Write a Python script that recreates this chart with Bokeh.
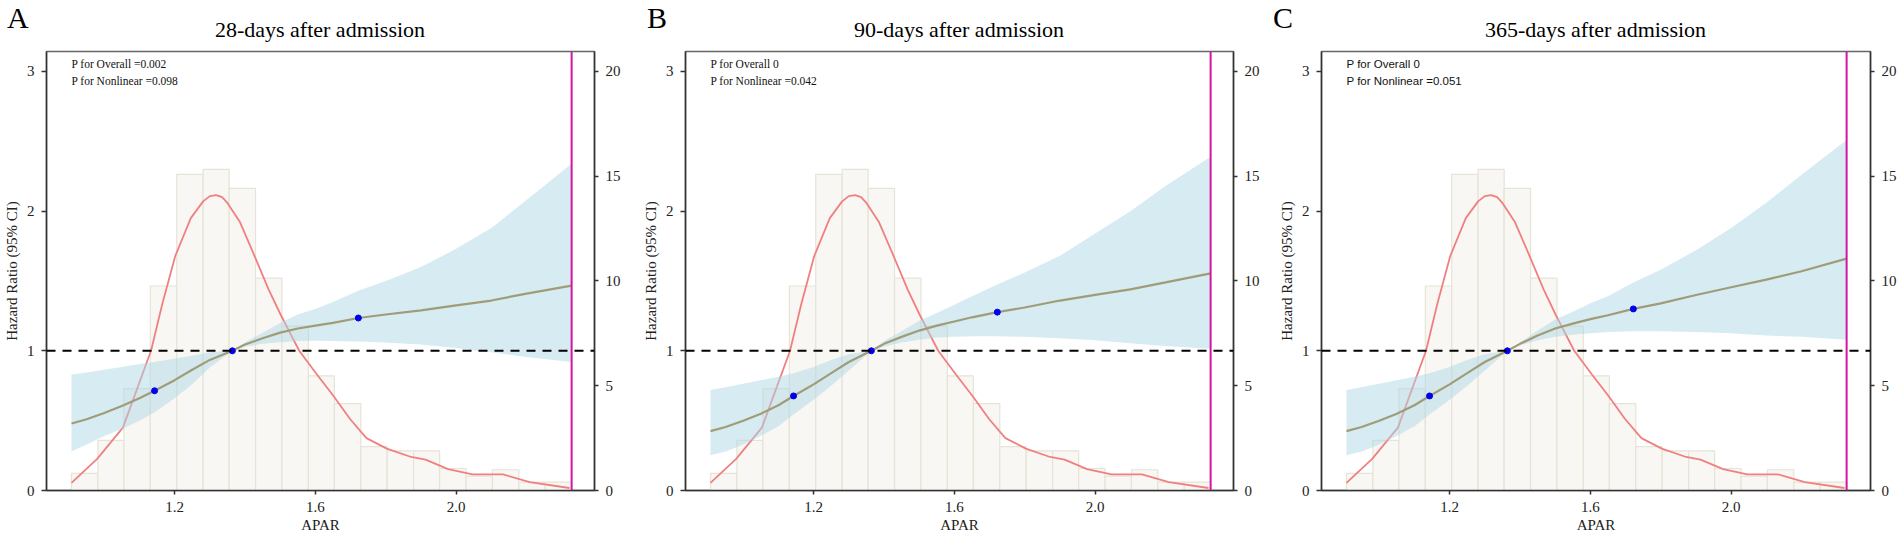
from bokeh.plotting import figure
from bokeh.models import Range1d, LinearAxis, FixedTicker, Span, Label, NumeralTickFormatter, Div
from bokeh.layouts import row, column
from bokeh.embed import file_html
from bokeh.resources import INLINE

SERIF = "Liberation Serif"
SANS = "Liberation Sans"

# ---------------- data ----------------
titles = ["28-days after admission", "90-days after admission", "365-days after admission"]
letters = ["A", "B", "C"]
p_overall = ["P for Overall =0.002", "P for Overall 0", "P for Overall 0"]
p_nonlinear = ["P for Nonlinear =0.098", "P for Nonlinear =0.042", "P for Nonlinear =0.051"]

apar = [0.907, 0.95, 1.0, 1.05, 1.1, 1.143, 1.2, 1.25, 1.3, 1.364, 1.4, 1.45,
        1.5, 1.55, 1.6, 1.65, 1.722, 1.8, 1.9, 2.0, 2.1, 2.2, 2.328]

hr_28 = [0.48, 0.51, 0.555, 0.605, 0.66, 0.714, 0.79, 0.865, 0.935, 1.0, 1.045, 1.09,
         1.13, 1.16, 1.18, 1.2, 1.235, 1.26, 1.29, 1.325, 1.36, 1.41, 1.467]
lo_28 = [0.28, 0.33, 0.39, 0.44, 0.5, 0.56, 0.66, 0.76, 0.88, 1.0, 1.03, 1.05,
         1.062, 1.07, 1.072, 1.07, 1.066, 1.06, 1.045, 1.02, 0.99, 0.955, 0.92]
hi_28 = [0.83, 0.845, 0.865, 0.885, 0.905, 0.92, 0.945, 0.965, 0.99, 1.0, 1.06, 1.13,
         1.2, 1.26, 1.3, 1.35, 1.43, 1.5, 1.6, 1.73, 1.88, 2.08, 2.34]

hr_90 = [0.425, 0.455, 0.5, 0.55, 0.61, 0.677, 0.76, 0.84, 0.92, 1.0, 1.05, 1.1,
         1.145, 1.18, 1.21, 1.24, 1.277, 1.31, 1.36, 1.40, 1.44, 1.49, 1.555]
lo_90 = [0.252, 0.28, 0.33, 0.39, 0.46, 0.545, 0.65, 0.75, 0.86, 1.0, 1.03, 1.06,
         1.08, 1.095, 1.1, 1.105, 1.105, 1.1, 1.09, 1.075, 1.055, 1.035, 1.015]
hi_90 = [0.72, 0.74, 0.765, 0.79, 0.815, 0.84, 0.885, 0.935, 0.975, 1.0, 1.07, 1.14,
         1.215, 1.27, 1.33, 1.39, 1.475, 1.56, 1.68, 1.84, 2.0, 2.18, 2.39]

hr_365 = [0.425, 0.455, 0.5, 0.55, 0.61, 0.677, 0.76, 0.84, 0.92, 1.0, 1.05, 1.11,
          1.16, 1.195, 1.227, 1.255, 1.30, 1.34, 1.40, 1.455, 1.51, 1.57, 1.66]
lo_365 = [0.252, 0.28, 0.33, 0.39, 0.46, 0.545, 0.65, 0.75, 0.86, 1.0, 1.04, 1.075,
          1.1, 1.115, 1.125, 1.135, 1.14, 1.14, 1.135, 1.125, 1.11, 1.1, 1.08]
hi_365 = [0.72, 0.74, 0.765, 0.79, 0.815, 0.84, 0.885, 0.935, 0.975, 1.0, 1.06, 1.145,
          1.225, 1.28, 1.34, 1.39, 1.49, 1.58, 1.72, 1.88, 2.06, 2.26, 2.51]

knot_x = [1.143, 1.364, 1.722]
knot_28 = [0.714, 1.0, 1.235]
knot_90 = [0.677, 1.0, 1.277]
knot_365 = [0.677, 1.0, 1.30]

hist_edges = [0.907, 0.982, 1.056, 1.131, 1.206, 1.281, 1.355, 1.430, 1.505, 1.580,
              1.654, 1.729, 1.804, 1.879, 1.953, 2.028, 2.103, 2.178, 2.253, 2.328]
hist_pct = [0.82, 2.39, 4.86, 9.76, 15.09, 15.33, 14.42, 10.14, 7.85, 5.47,
            4.15, 2.09, 1.89, 1.89, 1.05, 0.69, 0.99, 0.40, 0.40]

dens_x = [0.907, 0.98, 1.053, 1.096, 1.133, 1.165, 1.202, 1.246, 1.281, 1.30, 1.318,
          1.335, 1.351, 1.386, 1.427, 1.467, 1.501, 1.554, 1.606, 1.652, 1.699, 1.745,
          1.803, 1.872, 1.913, 1.977, 2.046, 2.133, 2.209, 2.322]
dens_y = [0.36, 1.51, 3.0, 4.97, 6.67, 8.9, 11.2, 13.0, 13.8, 14.05, 14.1,
          14.0, 13.7, 12.8, 11.2, 9.6, 8.4, 6.67, 5.5, 4.5, 3.4, 2.5,
          2.0, 1.6, 1.47, 1.02, 0.77, 0.77, 0.40, 0.12]

apar_max = 2.328

x_ticks = [1.2, 1.6, 2.0]
hr_ticks = [0, 1, 2, 3]
pct_ticks = [0, 5, 10, 15, 20]

series = [(hr_28, lo_28, hi_28, knot_28),
          (hr_90, lo_90, hi_90, knot_90),
          (hr_365, lo_365, hi_365, knot_365)]

# ---------------- layout (pixels) ----------------
PAGE_W = 1902
STRIP_H = 44          # header strip with panel letters and titles
PANEL_H = 540 - STRIP_H
FRAME_H = 439
BORDER_TOP = 51 - STRIP_H
BORDER_BOTTOM = PANEL_H - FRAME_H - BORDER_TOP
borders = [(46, 45), (46, 36), (52, 32)]
frame_widths = [548, 548, 549]
letter_gap = [39, 38, 48]
ptext_fonts = [SERIF, SERIF, SANS]

X0, X1 = 0.836, 2.393
Y1 = 3.143
PCT1 = Y1 * 20 / 3


def style_axis(ax, side):
    ax.axis_line_color = "#333333"
    ax.axis_line_width = 1.5
    ax.major_tick_line_color = "#333333"
    ax.major_tick_line_width = 1.5
    ax.major_tick_out = 5 if side == "left" else 4
    ax.major_tick_in = 0
    ax.minor_tick_line_color = None
    ax.major_label_text_font = SERIF
    ax.major_label_text_font_size = "15px"
    ax.major_label_text_color = "#222222"
    ax.major_label_standoff = 7
    ax.axis_label_text_font = SERIF
    ax.axis_label_text_font_size = "15px"
    ax.axis_label_text_font_style = "normal"
    ax.axis_label_text_color = "#222222"
    ax.axis_label_standoff = 2 if side == "below" else 4


figs = []
frame_lefts = []
x_cursor = 0
for i in range(3):
    hr, lo, hi, knots = series[i]
    bl, br = borders[i]
    fw = frame_widths[i]
    width = bl + fw + br
    frame_lefts.append(x_cursor + bl)
    x_cursor += width
    p = figure(width=width, height=PANEL_H, title=None,
               x_range=Range1d(X0, X0 + (X1 - X0) * fw / 548), y_range=Range1d(0, Y1),
               output_backend="svg", toolbar_location=None,
               min_border_left=bl, min_border_right=br,
               min_border_top=BORDER_TOP, min_border_bottom=BORDER_BOTTOM)
    p.extra_y_ranges = {"pct": Range1d(0, PCT1)}
    p.xgrid.grid_line_color = None
    p.ygrid.grid_line_color = None
    p.outline_line_color = "#666666"
    p.outline_line_width = 1.5
    p.background_fill_color = "white"
    p.border_fill_color = "white"

    p.xaxis.ticker = FixedTicker(ticks=x_ticks)
    p.xaxis.formatter = NumeralTickFormatter(format="0.0")
    p.xaxis.axis_label = "APAR"
    p.yaxis.ticker = FixedTicker(ticks=hr_ticks)
    p.yaxis.axis_label = "Hazard Ratio (95% CI)"
    style_axis(p.xaxis[0], "below")
    style_axis(p.yaxis[0], "left")
    ax_r = LinearAxis(y_range_name="pct", ticker=FixedTicker(ticks=pct_ticks))
    style_axis(ax_r, "right")
    p.add_layout(ax_r, "right")

    # histogram (percent, right axis)
    p.quad(left=hist_edges[:-1], right=hist_edges[1:], bottom=0, top=hist_pct,
           y_range_name="pct", fill_color="#F8F7F3", line_color="#E6E4D6", line_width=1.2)
    # density curve
    p.line(dens_x, dens_y, y_range_name="pct", line_color="#F08080", line_width=1.8)
    # CI band
    p.varea(x=apar, y1=lo, y2=hi, fill_color="#ADD8E6", fill_alpha=0.5)
    # HR curve
    p.line(apar, hr, line_color="#A09C78", line_width=2.2)
    # reference line
    p.add_layout(Span(location=1, dimension="width", line_color="black",
                      line_width=2, line_dash="9 7"))
    # max APAR line
    p.add_layout(Span(location=apar_max, dimension="height", line_color="#D4169E",
                      line_width=2))
    # knots
    p.scatter(knot_x, knots, size=6, color="#0000EE")

    # P-value annotations
    p.add_layout(Label(x=apar[0], y=3.057, text=p_overall[i], text_font=ptext_fonts[i],
                       text_font_size="11.5px", text_baseline="middle", text_color="#111111"))
    p.add_layout(Label(x=apar[0], y=2.93, text=p_nonlinear[i], text_font=ptext_fonts[i],
                       text_font_size="11.5px", text_baseline="middle", text_color="#111111"))
    figs.append(p)

# ---------------- header strip: panel letters and titles ----------------
letter_x = [frame_lefts[i] - letter_gap[i] for i in range(3)]
title_x = [frame_lefts[i] + frame_widths[i] / 2 for i in range(3)]
font_css = "font-family:'Liberation Serif',serif;white-space:nowrap;color:#000;"
spans = []
for i in range(3):
    spans.append(
        f'<span style="position:absolute;left:{letter_x[i]}px;top:3px;{font_css}'
        f'font-size:30px;line-height:30px;">{letters[i]}</span>')
    spans.append(
        f'<span style="position:absolute;left:{title_x[i]}px;top:19px;{font_css}'
        f'transform:translateX(-50%);font-size:22px;line-height:22px;">{titles[i]}</span>')
header_html = (f'<div style="position:relative;width:{PAGE_W}px;height:{STRIP_H}px;'
               f'margin:0;padding:0;overflow:visible;">' + "".join(spans) + "</div>")
header = Div(text=header_html, width=PAGE_W, height=STRIP_H, margin=0)

layout = column(header, row(*figs))
open("out.html", "w").write(file_html(layout, INLINE))
